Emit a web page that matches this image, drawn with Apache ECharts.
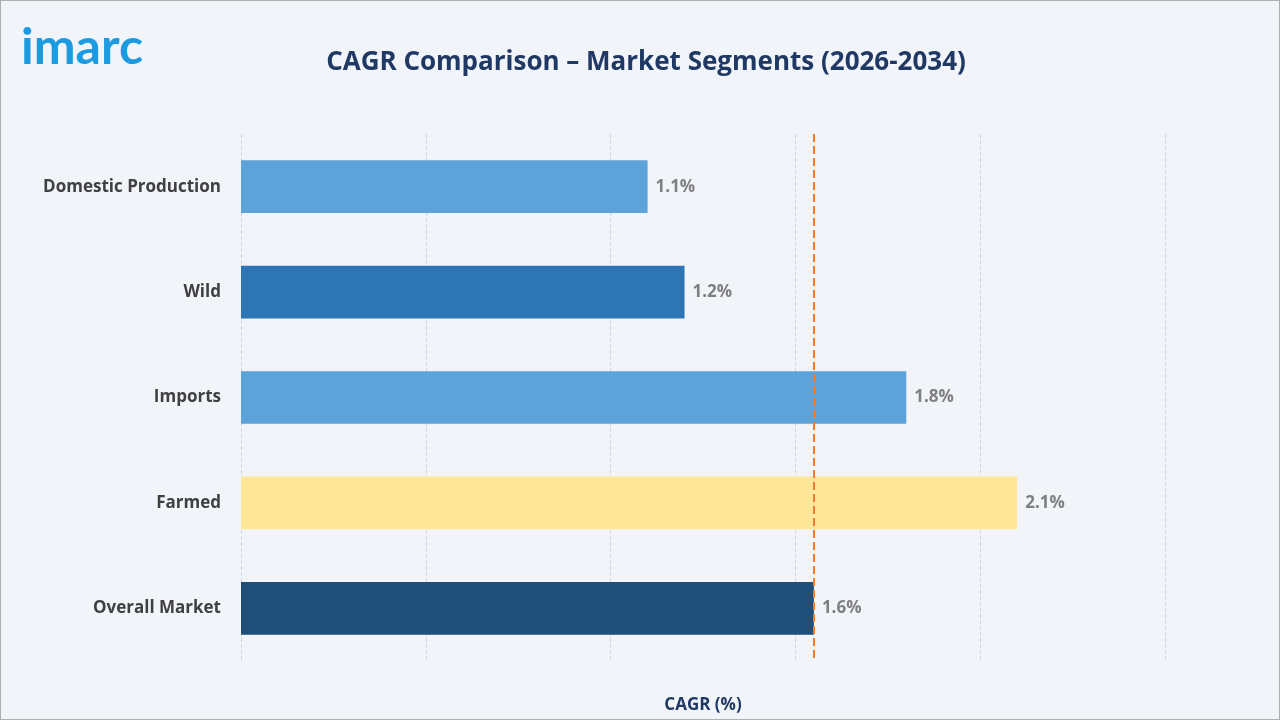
<!DOCTYPE html>
<html><head><meta charset="utf-8">
<script src="https://cdn.jsdelivr.net/npm/echarts@6/dist/echarts.min.js"></script>
<style>html,body{margin:0;padding:0;background:#f1f4f9;}#c{width:1278px;height:718px;border:1px solid #b0b0b0;}</style>
</head><body><div id="c"></div>
<script>
const categories = ["Domestic Production","Wild","Imports","Farmed","Overall Market"];
const values = [1.1, 1.2, 1.8, 2.1, 1.55];
const colors = ["#5ba3d9","#2e75b6","#5ba3d9","#ffe699","#1f4e79"];
const refValue = 1.55;
const chart = echarts.init(document.getElementById('c'));
chart.setOption({
  backgroundColor:'#f1f4f9',
  title:[{text:'CAGR Comparison – Market Segments (2026-2034)',left:640,top:44,textAlign:'center',
    textStyle:{fontFamily:'Open Sans',fontSize:26,fontWeight:'bold',color:'#1f3864'}}],
  graphic:[{type:'text',left:20,top:22,style:{text:'imarc',fontFamily:'Lato',fontSize:50,fontWeight:'bold',fill:'#1e9be0'}}],
  grid:{left:240,right:114,top:133,bottom:58},
  xAxis:{type:'value',min:0,max:2.5,interval:0.5,axisLabel:{show:false},
    axisLine:{show:false},axisTick:{show:false},
    splitLine:{lineStyle:{type:'dashed',color:'#d4d8de'}},
    name:'CAGR (%)',nameLocation:'middle',nameGap:36,
    nameTextStyle:{fontFamily:'Open Sans',fontSize:17,fontWeight:'bold',color:'#1f3864'}},
  yAxis:{type:'category',data:categories,inverse:true,
    axisLine:{show:false},axisTick:{show:false},
    axisLabel:{fontFamily:'Open Sans',fontSize:17,fontWeight:'bold',color:'#404040',margin:20}},
  series:[{type:'bar',barWidth:'50%',
    data:values.map((v,i)=>({value:v,itemStyle:{color:colors[i]}})),
    label:{show:true,position:'right',distance:8,formatter:p=>p.value.toFixed(1)+'%',
      fontFamily:'Open Sans',fontSize:17,fontWeight:'bold',color:'#7f7f7f'},
    markLine:{symbol:'none',silent:true,label:{show:false},
      lineStyle:{type:'dashed',color:'#ed7d31',width:2},
      data:[{xAxis:refValue}]}}]
});
</script></body></html>
